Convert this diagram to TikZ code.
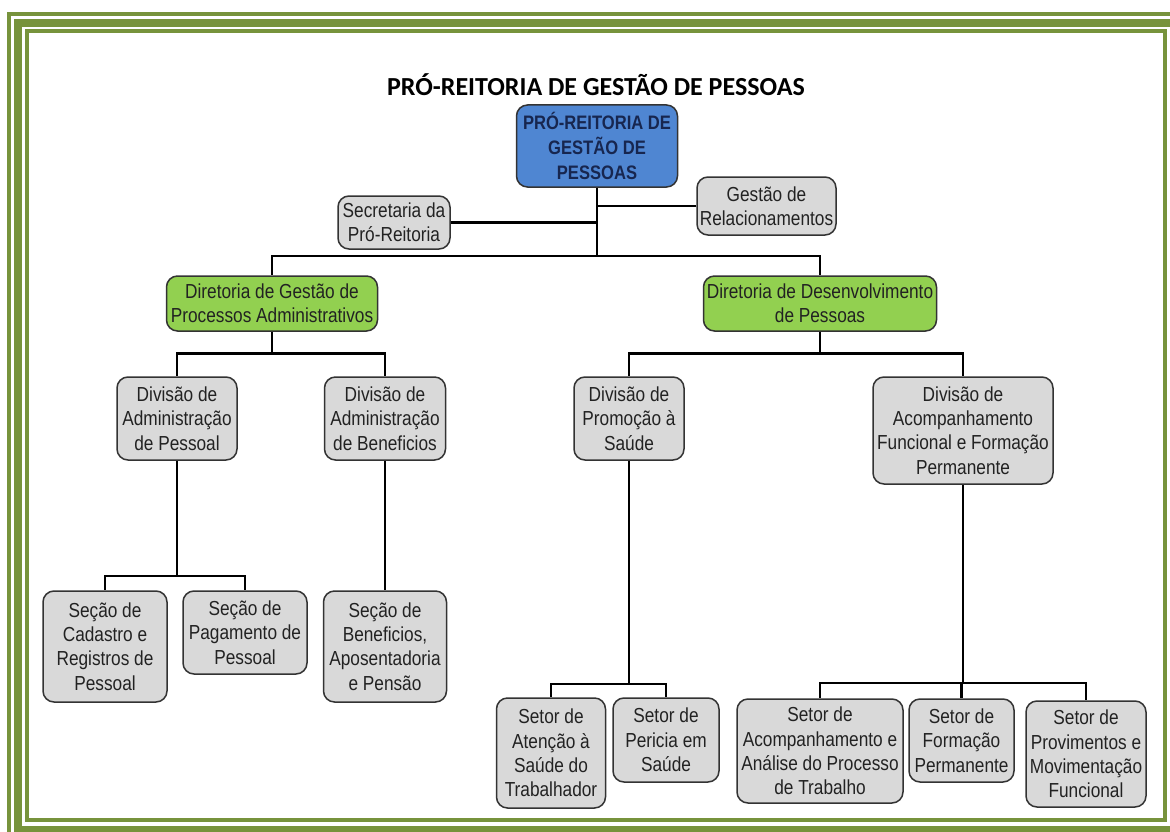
\documentclass[tikz,border=0pt]{standalone}
\usepackage{fontspec}
\newfontfamily\boxfont{Liberation Sans}[FakeStretch=0.85]
\newfontfamily\titlefont{Carlito}
\definecolor{frame}{HTML}{77933C}
\definecolor{boxgray}{HTML}{D9D9D9}
\definecolor{boxline}{HTML}{333333}
\definecolor{greenfill}{HTML}{92D050}
\definecolor{bluefill}{HTML}{4F86D2}
\definecolor{navy}{HTML}{17264F}
\definecolor{txt}{HTML}{222222}
\tikzset{
  orgbox/.style={draw=boxline, line width=1.5pt, rounded corners=11pt, fill=boxgray,
    align=center, inner sep=0pt, text=txt,
    font=\boxfont\fontsize{20.3}{24.3}\selectfont},
  dirbox/.style={orgbox, fill=greenfill, draw=boxline},
  headbox/.style={orgbox, fill=bluefill, text=navy, font=\boxfont\bfseries\fontsize{19.5}{25}\selectfont},
  conn/.style={draw=black, line width=2.8pt},
  framethin/.style={draw=frame, line width=4pt},
  framethick/.style={draw=frame, line width=8pt},
}
\begin{document}
\begin{tikzpicture}[x=1pt, y=-1pt]
\fill[white] (0,0) rectangle (1170,832);
\useasboundingbox (0,0) rectangle (1170,832);
\begin{scope}
\clip (0,0) rectangle (1170,832);
\draw[framethin] (9,14.5) rectangle (1200,860);
\draw[framethick] (18,23) rectangle (1179,830);
\draw[framethin] (27,31.5) rectangle (1165,820);
\end{scope}

\node[font=\titlefont\bfseries\fontsize{26}{30}\selectfont, text=black] (title) at (596,85) {PRÓ-REITORIA DE GESTÃO DE PESSOAS};

\node[headbox, minimum width=161pt, minimum height=82pt] (top) at (597,146) {PRÓ-REITORIA DE\\GESTÃO DE\\PESSOAS};
\node[orgbox, minimum width=112pt, minimum height=53pt] (sec) at (394,222.5) {Secretaria da\\Pró-Reitoria};
\node[orgbox, minimum width=139pt, minimum height=58pt] (rel) at (766.5,206) {Gestão de\\Relacionamentos};

\node[dirbox, minimum width=211pt, minimum height=55pt] (dirA) at (272,303.5) {Diretoria de Gestão de\\Processos Administrativos};
\node[dirbox, minimum width=233pt, minimum height=55pt] (dirB) at (820,303.5) {Diretoria de Desenvolvimento\\de Pessoas};

\node[orgbox, minimum width=120pt, minimum height=83pt] (divP) at (177,418.5) {Divisão de\\Administração\\de Pessoal};
\node[orgbox, minimum width=121pt, minimum height=83pt] (divB) at (385,418.5) {Divisão de\\Administração\\de Beneficios};
\node[orgbox, minimum width=110pt, minimum height=83pt] (divS) at (629,418.5) {Divisão de\\Promoção à\\Saúde};
\node[orgbox, minimum width=180pt, minimum height=107pt] (divA) at (963,430.5) {Divisão de\\Acompanhamento\\Funcional e Formação\\Permanente};

\node[orgbox, minimum width=124pt, minimum height=111pt] (secC) at (105,646.5) {Seção de\\Cadastro e\\Registros de\\Pessoal};
\node[orgbox, minimum width=124pt, minimum height=83pt] (secP) at (245,632.5) {Seção de\\Pagamento de\\Pessoal};
\node[orgbox, minimum width=123pt, minimum height=111pt] (secB) at (385,646.5) {Seção de\\Beneficios,\\Aposentadoria\\e Pensão};

\node[orgbox, minimum width=109pt, minimum height=110pt] (setA) at (551,753) {Setor de\\Atenção à\\Saúde do\\Trabalhador};
\node[orgbox, minimum width=106pt, minimum height=84pt] (setP) at (666,740) {Setor de\\Pericia em\\Saúde};
\node[orgbox, minimum width=166pt, minimum height=104pt] (setAc) at (820,751) {Setor de\\Acompanhamento e\\Análise do Processo\\de Trabalho};
\node[orgbox, minimum width=105pt, minimum height=83pt] (setF) at (961.5,740.5) {Setor de\\Formação\\Permanente};
\node[orgbox, minimum width=120pt, minimum height=106pt] (setPr) at (1086,754) {Setor de\\Provimentos e\\Movimentação\\Funcional};

\coordinate (bus0) at (597,256);
\draw[conn] (top.south) -- (bus0);
\draw[conn] (sec.east) -- (sec.east -| top.south);
\draw[conn] (rel.west) -- (rel.west -| top.south);
\draw[conn] (bus0) -| (dirA.north);
\draw[conn] (bus0) -| (dirB.north);

\draw[conn] (dirA.south) -- ++(0,22) -| (divP.north);
\draw[conn] (dirA.south) -- ++(0,22) -| (divB.north);
\draw[conn] (dirB.south) -- ++(0,22) -| (divS.north);
\draw[conn] (dirB.south) -- ++(0,22) -| (divA.north);

\coordinate (busP) at (177,576);
\coordinate (busS) at (629,684);
\coordinate (busA) at (963,683);
\draw[conn] (divP.south) -- (busP) -| (secC.north);
\draw[conn] (busP) -| (secP.north);
\draw[conn] (divB.south) -- (secB.north);

\draw[conn] (divS.south) -- (busS) -| (setA.north);
\draw[conn] (busS) -| (setP.north);

\draw[conn] (divA.south) -- (busA) -| (setAc.north);
\draw[conn] (busA) -| (setF.north);
\draw[conn] (busA) -| (setPr.north);
\end{tikzpicture}
\end{document}
